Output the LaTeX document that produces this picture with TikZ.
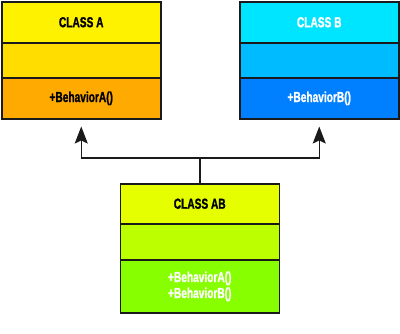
\documentclass[tikz,border=0pt]{standalone}
\usepackage{fontspec}
\setmainfont{Liberation Sans}[FakeStretch=0.7, BoldFeatures={FakeBold=1.2}]
\usetikzlibrary{arrows.meta}
\definecolor{aHead}{HTML}{FFF200}
\definecolor{aMid}{HTML}{FFDD00}
\definecolor{aMeth}{HTML}{FFAA00}
\definecolor{bHead}{HTML}{00E5FF}
\definecolor{bMid}{HTML}{00BBFF}
\definecolor{bMeth}{HTML}{0080FF}
\definecolor{abHead}{HTML}{E5FF00}
\definecolor{abMid}{HTML}{BBFF00}
\definecolor{abMeth}{HTML}{88FF00}
\definecolor{edge}{HTML}{1A1A1A}
\begin{document}
\begin{tikzpicture}[x=1pt,y=-1pt,
  cell/.style={draw=edge, line width=1.5pt, minimum width=159pt, anchor=north west,
    inner sep=0pt, font=\bfseries\fontsize{14.5}{16}\selectfont, align=center},
  conn/.style={draw=edge, line width=1.5pt},
  tip/.style={-{Stealth[length=17pt,width=13pt,inset=3pt]}, shorten >=7pt}]
\useasboundingbox (0,0) rectangle (400,333);
% Class A
\node[cell, fill=aHead, minimum height=41pt, text=black] (aH) at (1,1) {CLASS A};
\node[cell, fill=aMid, minimum height=35pt] (aM) at (1,42) {};
\node[cell, fill=aMeth, minimum height=41pt, text=black] (aB) at (1,77) {+BehaviorA()};
% Class B
\node[cell, fill=bHead, minimum height=41pt, text=white] (bH) at (239,1) {CLASS B};
\node[cell, fill=bMid, minimum height=35pt] (bM) at (239,42) {};
\node[cell, fill=bMeth, minimum height=41pt, text=white] (bB) at (239,77) {+BehaviorB()};
% Class AB
\node[cell, fill=abHead, minimum height=40pt, text=black] (abH) at (119.5,183) {CLASS AB};
\node[cell, fill=abMid, minimum height=36pt] (abM) at (119.5,223) {};
\node[cell, fill=abMeth, minimum height=53pt, text=white] (abB) at (119.5,259) {+BehaviorA()\\+BehaviorB()};
% connectors
\coordinate (j) at (abH.north |- 0,158);
\draw[conn] (abH.north) -- (j);
\draw[conn, tip] (j) -| (aB.south);
\draw[conn, tip] (j) -| (bB.south);
\end{tikzpicture}
\end{document}
